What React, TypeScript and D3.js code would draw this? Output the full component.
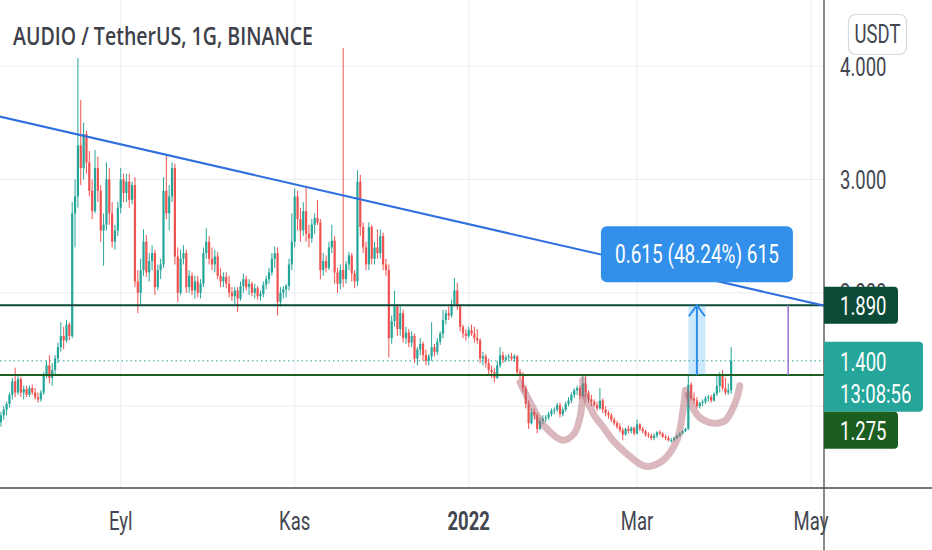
import { useEffect, useRef } from "react";
import * as d3 from "d3";

// chart frame (pixel layout of the TradingView screenshot)
const W = 932;
const H = 550;
const PLOT_R = 824; // price axis line
const PLOT_B = 488; // time axis line

// daily candles, AUDIO/USDT, starting on this day
const firstDay = "2021-07-21";

const opens = [
  0.86, 0.92, 0.97, 1.02, 1.1, 1.22, 1.12, 1.24, 1.12, 1.15, 1.1, 1.16, 1.12, 1.08, 1.06, 1.12, 1.28, 1.36, 1.25, 1.32,
  1.42, 1.52, 1.62, 1.58, 1.72, 1.62, 2.7, 2.85, 3.3, 3.1, 3.4, 3.15, 2.9, 2.72, 3.1, 2.9, 2.55, 2.6, 3.0, 2.7,
  2.45, 2.55, 2.75, 3.0, 2.88, 2.98, 2.82, 2.95, 2.1, 2.0, 2.2, 2.45, 2.18, 2.28, 2.35, 2.05, 2.2, 2.25, 2.9, 2.7,
  2.85, 3.1, 2.32, 2.0, 2.3, 2.35, 2.05, 2.15, 2.02, 2.1, 2.0, 2.08, 2.35, 2.45, 2.3, 2.25, 2.32, 2.15, 2.1, 2.14,
  2.08, 2.0, 1.97, 2.02, 1.95, 2.06, 2.12, 2.05, 2.08, 2.0, 2.04, 1.97, 1.99, 2.07, 2.12, 2.18, 2.3, 2.35, 1.92, 2.0,
  2.03, 2.06, 2.25, 2.45, 2.85, 2.65, 2.55, 2.72, 2.52, 2.48, 2.6, 2.66, 2.62, 2.2, 2.28, 2.22, 2.4, 2.46, 2.18, 2.08,
  2.2, 2.12, 2.25, 2.33, 2.17, 2.1, 2.98, 2.58, 2.4, 2.25, 2.58, 2.3, 2.4, 2.35, 2.5, 2.25, 2.2, 1.6, 1.75, 1.88,
  1.68, 1.82, 1.6, 1.65, 1.56, 1.62, 1.42, 1.5, 1.55, 1.45, 1.4, 1.44, 1.52, 1.48, 1.57, 1.64, 1.76, 1.82, 1.8, 1.9,
  2.02, 1.88, 1.7, 1.64, 1.62, 1.67, 1.64, 1.6, 1.58, 1.42, 1.44, 1.38, 1.32, 1.3, 1.25, 1.36, 1.45, 1.41, 1.43, 1.44,
  1.42, 1.44, 1.3, 1.27, 1.16, 1.02, 0.85, 0.95, 0.92, 0.8, 0.87, 0.89, 0.9, 0.93, 0.96, 0.97, 1.01, 0.93, 0.97, 1.02,
  1.05, 1.1, 1.14, 1.16, 1.09, 1.2, 1.12, 1.06, 1.04, 1.01, 0.98, 1.05, 0.97, 0.94, 0.92, 0.88, 0.85, 0.82, 0.79, 0.75,
  0.8, 0.78, 0.81, 0.76, 0.84, 0.8, 0.78, 0.75, 0.74, 0.72, 0.74, 0.77, 0.76, 0.73, 0.72, 0.7, 0.7, 0.72, 0.74, 0.76,
  0.78, 0.8, 1.19, 1.07, 1.05, 1.0, 1.03, 1.04, 1.07, 1.08, 1.05, 1.11, 1.18, 1.27, 1.16, 1.12, 1.14,
];

const highs = [
  0.95, 1.0, 1.04, 1.12, 1.25, 1.34, 1.28, 1.26, 1.18, 1.18, 1.18, 1.19, 1.16, 1.12, 1.14, 1.3, 1.4, 1.45, 1.38, 1.45,
  1.56, 1.74, 1.7, 1.76, 1.74, 2.8, 3.0, 4.07, 3.7, 3.5, 3.43, 3.25, 3.0, 3.26, 3.2, 2.95, 2.7, 3.15, 3.1, 2.8,
  2.6, 2.8, 3.1, 3.05, 3.05, 3.05, 2.98, 3.02, 2.2, 2.3, 2.56, 2.51, 2.35, 2.42, 2.38, 2.25, 2.3, 3.02, 3.21, 2.95,
  3.15, 3.14, 2.4, 2.38, 2.42, 2.38, 2.2, 2.18, 2.15, 2.15, 2.12, 2.4, 2.57, 2.5, 2.4, 2.38, 2.36, 2.22, 2.18, 2.18,
  2.15, 2.05, 2.05, 2.05, 2.1, 2.17, 2.15, 2.12, 2.1, 2.08, 2.06, 2.02, 2.1, 2.15, 2.22, 2.35, 2.41, 2.4, 2.05, 2.06,
  2.08, 2.3, 2.7, 2.92, 2.9, 2.75, 2.8, 2.93, 2.6, 2.65, 2.7, 2.82, 2.65, 2.35, 2.33, 2.45, 2.6, 2.5, 2.22, 2.25,
  4.16, 2.28, 2.36, 2.35, 2.2, 3.08, 3.04, 2.62, 2.45, 2.62, 2.6, 2.45, 2.56, 2.56, 2.53, 2.3, 2.25, 1.8, 2.02, 1.9,
  1.88, 1.85, 1.7, 1.68, 1.66, 1.64, 1.52, 1.6, 1.57, 1.5, 1.46, 1.74, 1.55, 1.6, 1.66, 1.85, 1.85, 1.88, 1.94, 2.13,
  2.09, 1.9, 1.72, 1.68, 1.7, 1.72, 1.7, 1.68, 1.6, 1.48, 1.46, 1.42, 1.36, 1.34, 1.4, 1.52, 1.48, 1.45, 1.46, 1.47,
  1.46, 1.45, 1.33, 1.3, 1.18, 1.05, 0.98, 0.98, 0.94, 0.9, 0.92, 0.92, 0.95, 0.98, 0.99, 1.03, 1.03, 0.99, 1.04, 1.08,
  1.12, 1.16, 1.18, 1.18, 1.27, 1.28, 1.14, 1.1, 1.06, 1.04, 1.16, 1.07, 1.0, 0.96, 0.94, 0.9, 0.87, 0.85, 0.81, 0.81,
  0.83, 0.82, 0.82, 0.88, 0.85, 0.82, 0.79, 0.77, 0.76, 0.76, 0.78, 0.79, 0.77, 0.75, 0.74, 0.72, 0.73, 0.75, 0.77, 0.79,
  0.81, 1.27, 1.21, 1.12, 1.08, 1.04, 1.06, 1.09, 1.1, 1.1, 1.12, 1.28, 1.3, 1.32, 1.25, 1.2, 1.52,
];

const lows = [
  0.82, 0.88, 0.92, 0.99, 1.06, 1.08, 1.1, 1.08, 1.06, 1.08, 1.08, 1.1, 1.06, 1.03, 1.04, 1.1, 1.25, 1.2, 1.18, 1.28,
  1.38, 1.48, 1.5, 1.56, 1.58, 1.6, 2.4, 2.75, 2.95, 3.0, 3.05, 2.85, 2.65, 2.7, 2.8, 2.45, 2.24, 2.55, 2.6, 2.4,
  2.38, 2.5, 2.7, 2.8, 2.8, 2.75, 2.78, 2.05, 1.82, 1.9, 2.15, 2.14, 2.1, 2.2, 1.98, 2.02, 2.12, 2.22, 2.65, 2.55,
  2.8, 2.25, 1.92, 1.98, 2.25, 2.0, 2.0, 1.98, 1.95, 1.96, 1.95, 2.05, 2.3, 2.25, 2.2, 2.18, 2.12, 2.05, 2.05, 2.04,
  1.96, 1.93, 1.9, 1.83, 1.93, 2.0, 2.02, 1.98, 1.97, 1.95, 1.94, 1.93, 1.96, 2.03, 2.08, 2.15, 2.22, 1.8, 1.88, 1.95,
  1.96, 2.02, 2.2, 2.4, 2.55, 2.45, 2.5, 2.45, 2.4, 2.44, 2.52, 2.6, 2.12, 2.15, 2.18, 2.2, 2.35, 2.08, 2.0, 2.03,
  2.05, 2.08, 2.2, 2.1, 2.04, 2.06, 2.5, 2.35, 2.2, 2.2, 2.25, 2.25, 2.3, 2.3, 2.2, 2.15, 1.43, 1.55, 1.7, 1.62,
  1.62, 1.56, 1.55, 1.52, 1.52, 1.38, 1.36, 1.45, 1.4, 1.36, 1.36, 1.4, 1.44, 1.45, 1.54, 1.6, 1.72, 1.76, 1.78, 1.88,
  1.85, 1.66, 1.6, 1.58, 1.6, 1.62, 1.56, 1.55, 1.38, 1.36, 1.34, 1.28, 1.25, 1.21, 1.24, 1.34, 1.38, 1.39, 1.4, 1.4,
  1.39, 1.27, 1.24, 1.12, 0.98, 0.8, 0.84, 0.88, 0.76, 0.79, 0.84, 0.86, 0.88, 0.91, 0.93, 0.95, 0.9, 0.91, 0.95, 1.0,
  1.03, 1.07, 1.1, 1.06, 1.08, 1.08, 1.03, 1.0, 0.99, 0.96, 0.97, 0.94, 0.91, 0.89, 0.86, 0.83, 0.8, 0.77, 0.7, 0.74,
  0.76, 0.76, 0.74, 0.75, 0.78, 0.76, 0.73, 0.72, 0.7, 0.7, 0.72, 0.74, 0.72, 0.7, 0.69, 0.68, 0.69, 0.71, 0.73, 0.75,
  0.77, 0.79, 1.05, 1.02, 0.98, 0.98, 1.0, 1.02, 1.04, 1.03, 1.04, 1.09, 1.12, 1.14, 1.1, 1.1, 1.11,
];

const closes = [
  0.92, 0.97, 1.02, 1.1, 1.22, 1.12, 1.24, 1.12, 1.15, 1.1, 1.16, 1.12, 1.08, 1.06, 1.12, 1.28, 1.36, 1.25, 1.32, 1.42,
  1.52, 1.62, 1.58, 1.72, 1.62, 2.7, 2.85, 3.3, 3.1, 3.4, 3.15, 2.9, 2.72, 3.1, 2.9, 2.55, 2.6, 3.0, 2.7, 2.45,
  2.55, 2.75, 3.0, 2.88, 2.98, 2.82, 2.95, 2.1, 2.0, 2.2, 2.45, 2.18, 2.28, 2.35, 2.05, 2.2, 2.25, 2.9, 2.7, 2.85,
  3.1, 2.32, 2.0, 2.3, 2.35, 2.05, 2.15, 2.02, 2.1, 2.0, 2.08, 2.35, 2.45, 2.3, 2.25, 2.32, 2.15, 2.1, 2.14, 2.08,
  2.0, 1.97, 2.02, 1.95, 2.06, 2.12, 2.05, 2.08, 2.0, 2.04, 1.97, 1.99, 2.07, 2.12, 2.18, 2.3, 2.35, 1.92, 2.0, 2.03,
  2.06, 2.25, 2.45, 2.85, 2.65, 2.55, 2.72, 2.52, 2.48, 2.6, 2.66, 2.62, 2.2, 2.28, 2.22, 2.4, 2.46, 2.18, 2.08, 2.2,
  2.12, 2.25, 2.33, 2.17, 2.1, 2.98, 2.58, 2.4, 2.25, 2.58, 2.3, 2.4, 2.35, 2.5, 2.25, 2.2, 1.6, 1.75, 1.88, 1.68,
  1.82, 1.6, 1.65, 1.56, 1.62, 1.42, 1.5, 1.55, 1.45, 1.4, 1.44, 1.52, 1.48, 1.57, 1.64, 1.76, 1.82, 1.8, 1.9, 2.02,
  1.88, 1.7, 1.64, 1.62, 1.67, 1.64, 1.6, 1.58, 1.42, 1.44, 1.38, 1.32, 1.3, 1.25, 1.36, 1.45, 1.41, 1.43, 1.44, 1.42,
  1.44, 1.3, 1.27, 1.16, 1.02, 0.85, 0.95, 0.92, 0.8, 0.87, 0.89, 0.9, 0.93, 0.96, 0.97, 1.01, 0.93, 0.97, 1.02, 1.05,
  1.1, 1.14, 1.16, 1.09, 1.2, 1.12, 1.06, 1.04, 1.01, 0.98, 1.05, 0.97, 0.94, 0.92, 0.88, 0.85, 0.82, 0.79, 0.75, 0.8,
  0.78, 0.81, 0.76, 0.84, 0.8, 0.78, 0.75, 0.74, 0.72, 0.74, 0.77, 0.76, 0.73, 0.72, 0.7, 0.7, 0.72, 0.74, 0.76, 0.78,
  0.8, 1.19, 1.07, 1.05, 1.0, 1.03, 1.04, 1.07, 1.08, 1.05, 1.11, 1.18, 1.27, 1.16, 1.12, 1.14, 1.4,
];

// axes
const gridPrices = [1, 2, 3, 4];
const priceLabels = [2, 3, 4]; // 1.000 sits under the price tags
const timeTicks = ["2021-09-01", "2021-11-01", "2022-01-01", "2022-03-01", "2022-05-01"];
const timeLabels = ["Eyl", "Kas", "2022", "Mar", "May"];

// drawings on the chart
const resistance = 1.89;
const support = 1.275;
const lastPrice = 1.4;
const countdown = "13:08:56";
const trendLine: [string, number][] = [
  ["2021-07-01", 3.667],
  ["2022-05-10", 1.861],
];
const measureDates = ["2022-03-19", "2022-03-25"];
const measureText = "0.615 (48.24%) 615";
const markerDate = "2022-04-23";

const leftShoulder: [string, number][] = [
  ["2022-01-19", 1.21],
  ["2022-01-23", 1.01],
  ["2022-01-28", 0.81],
  ["2022-02-03", 0.7],
  ["2022-02-07", 0.76],
  ["2022-02-09", 0.9],
  ["2022-02-10", 1.1],
  ["2022-02-10", 1.23],
];
const head: [string, number][] = [
  ["2022-02-11", 1.08],
  ["2022-02-14", 0.92],
  ["2022-02-17", 0.82],
  ["2022-02-21", 0.685],
  ["2022-02-25", 0.59],
  ["2022-03-04", 0.47],
  ["2022-03-10", 0.52],
  ["2022-03-15", 0.7],
  ["2022-03-17", 0.94],
  ["2022-03-18", 1.14],
];
const rightShoulder: [string, number][] = [
  ["2022-03-19", 1.1],
  ["2022-03-21", 0.965],
  ["2022-03-23", 0.9],
  ["2022-03-26", 0.86],
  ["2022-03-29", 0.85],
  ["2022-04-01", 0.875],
  ["2022-04-03", 0.95],
  ["2022-04-05", 1.07],
  ["2022-04-06", 1.18],
];

const UP = "#26a69a";
const DOWN = "#ef5350";
const FONT = "Roboto, 'Noto Sans', sans-serif";
const SQ = 0.74; // the screenshot is squeezed horizontally

const parse = d3.utcParse("%Y-%m-%d");

const roundedRight = (x: number, y: number, w: number, h: number, r: number) =>
  `M${x},${y}H${x + w - r}Q${x + w},${y} ${x + w},${y + r}V${y + h - r}Q${x + w},${y + h} ${x + w - r},${y + h}H${x}Z`;

const App = () => {
  const svgRef = useRef<SVGSVGElement | null>(null);

  useEffect(() => {
    if (!svgRef.current) return;
    const svg = d3.select(svgRef.current);
    svg.selectAll("*").remove();

    const x = d3
      .scaleUtc()
      .domain([parse("2021-09-01")!, parse("2022-05-01")!])
      .range([120.7, 811]);
    const y = d3.scaleLinear().domain([support, 4]).range([375, 66]);

    const start = parse(firstDay)!;
    const candles = closes.map((c, i) => ({
      date: d3.utcDay.offset(start, i),
      o: opens[i],
      h: highs[i],
      l: lows[i],
      c,
    }));

    const text = (
      g: any,
      tx: number,
      ty: number,
      str: string,
      opts: { size?: number; weight?: number; fill?: string; anchor?: string; sx?: number } = {}
    ) =>
      g
        .append("text")
        .attr("transform", `translate(${tx},${ty}) scale(${opts.sx ?? SQ},1)`)
        .attr("font-family", FONT)
        .attr("font-size", opts.size ?? 25)
        .attr("font-weight", opts.weight ?? 400)
        .attr("fill", opts.fill ?? "#434651")
        .attr("text-anchor", opts.anchor ?? "start")
        .text(str);

    svg.append("rect").attr("width", W).attr("height", H).attr("fill", "#ffffff");

    svg
      .append("defs")
      .append("clipPath")
      .attr("id", "plot-clip")
      .append("rect")
      .attr("width", PLOT_R)
      .attr("height", PLOT_B);

    const plot = svg.append("g").attr("clip-path", "url(#plot-clip)");

    // grid
    plot
      .selectAll(".vgrid")
      .data(timeTicks)
      .enter()
      .append("line")
      .attr("x1", (d) => x(parse(d)!))
      .attr("x2", (d) => x(parse(d)!))
      .attr("y1", 0)
      .attr("y2", PLOT_B)
      .attr("stroke", "#eceff3")
      .attr("stroke-width", 1.2);
    plot
      .selectAll(".hgrid")
      .data(gridPrices)
      .enter()
      .append("line")
      .attr("x1", 0)
      .attr("x2", PLOT_R)
      .attr("y1", (d) => y(d))
      .attr("y2", (d) => y(d))
      .attr("stroke", "#eceff3")
      .attr("stroke-width", 1.2);

    // last price dotted line
    plot
      .append("line")
      .attr("x1", 0)
      .attr("x2", PLOT_R)
      .attr("y1", y(lastPrice))
      .attr("y2", y(lastPrice))
      .attr("stroke", UP)
      .attr("stroke-width", 1)
      .attr("stroke-dasharray", "1.5 3");

    // candles
    const cg = plot.append("g");
    cg.selectAll(".wick")
      .data(candles)
      .enter()
      .append("line")
      .attr("x1", (d) => x(d.date))
      .attr("x2", (d) => x(d.date))
      .attr("y1", (d) => y(d.h))
      .attr("y2", (d) => y(d.l))
      .attr("stroke", (d) => (d.c >= d.o ? UP : DOWN))
      .attr("stroke-width", 1);
    cg.selectAll(".body")
      .data(candles)
      .enter()
      .append("rect")
      .attr("x", (d) => x(d.date) - 1.1)
      .attr("width", 2.2)
      .attr("y", (d) => y(Math.max(d.o, d.c)))
      .attr("height", (d) => Math.max(1, Math.abs(y(d.o) - y(d.c))))
      .attr("fill", (d) => (d.c >= d.o ? UP : DOWN));

    // head and shoulders sketch
    const arc = d3
      .line<[string, number]>()
      .x((d) => x(parse(d[0])!))
      .y((d) => y(d[1]))
      .curve(d3.curveCatmullRom.alpha(0.5));
    plot
      .selectAll(".hs")
      .data([leftShoulder, head, rightShoulder])
      .enter()
      .append("path")
      .attr("d", (d) => arc(d))
      .attr("fill", "none")
      .attr("stroke", "rgba(176,98,108,0.45)")
      .attr("stroke-width", 7)
      .attr("stroke-linecap", "round");

    // horizontal levels
    plot
      .append("line")
      .attr("x1", 0)
      .attr("x2", PLOT_R)
      .attr("y1", y(resistance))
      .attr("y2", y(resistance))
      .attr("stroke", "#0b4a37")
      .attr("stroke-width", 2);
    plot
      .append("line")
      .attr("x1", 0)
      .attr("x2", PLOT_R)
      .attr("y1", y(support))
      .attr("y2", y(support))
      .attr("stroke", "#1b5e20")
      .attr("stroke-width", 2);

    // trend line
    plot
      .append("line")
      .attr("x1", x(parse(trendLine[0][0])!))
      .attr("y1", y(trendLine[0][1]))
      .attr("x2", x(parse(trendLine[1][0])!))
      .attr("y2", y(trendLine[1][1]))
      .attr("stroke", "#2f6fe0")
      .attr("stroke-width", 2);

    // price range measurement
    const mx0 = x(parse(measureDates[0])!);
    const mx1 = x(parse(measureDates[1])!);
    const mxc = (mx0 + mx1) / 2;
    plot
      .append("rect")
      .attr("x", mx0)
      .attr("width", mx1 - mx0)
      .attr("y", y(resistance))
      .attr("height", y(support) - y(resistance))
      .attr("fill", "rgba(33,150,243,0.22)");
    plot
      .append("line")
      .attr("x1", mxc)
      .attr("x2", mxc)
      .attr("y1", y(support))
      .attr("y2", y(resistance))
      .attr("stroke", "#2b8de8")
      .attr("stroke-width", 2);
    plot
      .append("path")
      .attr("d", `M${mxc - 8},${y(resistance) + 11}L${mxc},${y(resistance)}L${mxc + 8},${y(resistance) + 11}`)
      .attr("fill", "none")
      .attr("stroke", "#2b8de8")
      .attr("stroke-width", 2);
    const boxW = 192;
    const boxBottom = y(resistance) - 23;
    plot
      .append("rect")
      .attr("x", mxc - boxW / 2)
      .attr("y", boxBottom - 56)
      .attr("width", boxW)
      .attr("height", 56)
      .attr("rx", 6)
      .attr("fill", "#3290ea");
    text(plot, mxc, boxBottom - 19, measureText, { fill: "#ffffff", anchor: "middle", sx: 0.76 });

    // purple marker
    const px = x(parse(markerDate)!);
    plot
      .append("line")
      .attr("x1", px)
      .attr("x2", px)
      .attr("y1", y(resistance))
      .attr("y2", y(support))
      .attr("stroke", "#9575cd")
      .attr("stroke-width", 1.5);

    // title
    svg
      .append("text")
      .attr("x", 13)
      .attr("y", 45)
      .attr("font-family", "'Open Sans', sans-serif")
      .attr("font-size", 25)
      .attr("font-weight", 600)
      .attr("fill", "#3d4049")
      .attr("textLength", 300)
      .attr("lengthAdjust", "spacingAndGlyphs")
      .text("AUDIO / TetherUS, 1G, BINANCE");

    // axis panels
    svg.append("rect").attr("x", PLOT_R).attr("width", W - PLOT_R).attr("height", H).attr("fill", "#ffffff");
    svg.append("rect").attr("y", PLOT_B).attr("width", W).attr("height", H - PLOT_B).attr("fill", "#ffffff");
    svg
      .append("line")
      .attr("x1", PLOT_R)
      .attr("x2", PLOT_R)
      .attr("y1", 0)
      .attr("y2", H)
      .attr("stroke", "#4a4a4a")
      .attr("stroke-width", 1.3);
    svg
      .append("line")
      .attr("x1", 0)
      .attr("x2", W)
      .attr("y1", PLOT_B)
      .attr("y2", PLOT_B)
      .attr("stroke", "#4a4a4a")
      .attr("stroke-width", 1.3);

    // time axis labels
    timeTicks.forEach((t, i) => {
      text(svg, x(parse(t)!), 530, timeLabels[i], {
        anchor: "middle",
        weight: timeLabels[i] === "2022" ? 700 : 400,
      });
    });

    // price axis labels
    priceLabels.forEach((p) => {
      text(svg, 840, y(p) + 9.5, d3.format(".3f")(p));
    });

    // USDT badge
    svg
      .append("rect")
      .attr("x", 848.5)
      .attr("y", 14.5)
      .attr("width", 58)
      .attr("height", 40)
      .attr("rx", 7)
      .attr("fill", "#ffffff")
      .attr("stroke", "#d6d9df")
      .attr("stroke-width", 1.2);
    text(svg, 877.5, 42.5, "USDT", { anchor: "middle" });

    // price tags
    const tag = (top: number, w: number, h: number, fill: string) =>
      svg.append("path").attr("d", roundedRight(PLOT_R, top, w, h, 4)).attr("fill", fill);

    const rTop = y(resistance) - 18.5;
    tag(rTop, 74, 37, "#0b4a37");
    text(svg, 840, rTop + 28, d3.format(".3f")(resistance), { fill: "#ffffff" });

    const lTop = y(lastPrice) - 19;
    tag(lTop, 99, 70, UP);
    text(svg, 840, lTop + 29, d3.format(".3f")(lastPrice), { fill: "#ffffff" });
    text(svg, 840, lTop + 61, countdown, { fill: "#ffffff" });

    const sTop = lTop + 70;
    tag(sTop, 74, 37, "#1b5e20");
    text(svg, 840, sTop + 28, d3.format(".3f")(support), { fill: "#ffffff" });
  }, []);

  return (
    <svg
      ref={svgRef}
      width={W}
      height={H}
      style={{ position: "absolute", left: 0, top: 0, display: "block" }}
    ></svg>
  );
};

export default App;
